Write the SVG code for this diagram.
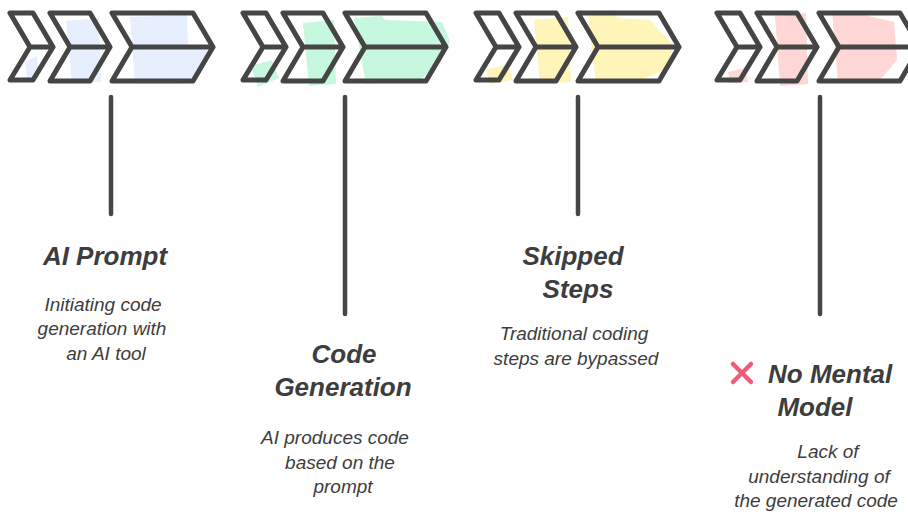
<svg xmlns="http://www.w3.org/2000/svg" width="908" height="515" viewBox="0 0 908 515">
  <style>
    .outline { fill: none; stroke: #454545; stroke-width: 5; stroke-linejoin: round; stroke-linecap: round; }
    .stem { stroke: #454545; stroke-width: 4.5; stroke-linecap: round; }
    .title { font-family: "Liberation Sans", Arial, sans-serif; font-weight: bold; font-style: italic; font-size: 26px; fill: #3d3d3d; text-anchor: middle; }
    .desc { font-family: "Liberation Sans", Arial, sans-serif; font-style: italic; font-size: 19px; fill: #3d3d3d; text-anchor: middle; }
    .blue { fill: #e7efff; }
    .green { fill: #c6f8df; }
    .yellow { fill: #fff5b9; }
    .pink { fill: #ffd7d7; }
    .cross { stroke: #f25a78; stroke-width: 4.5; stroke-linecap: round; }
  </style>
  <defs>
    <!-- three chevrons, each split into an upper and lower parallelogram -->
    <g id="chevrons" class="outline">
      <path d="M10,13 L33,13 L53,47 L30,47 Z M30,47 L53,47 L33,80 L10,80 Z"/>
      <path d="M50,13 L90,13 L110,47 L70,47 Z M70,47 L110,47 L90,81 L50,81 Z"/>
      <path d="M112,13 L193,13 L213,47 L132,47 Z M132,47 L213,47 L193,81 L112,81 Z"/>
    </g>
  </defs>
  <rect width="908" height="515" fill="#ffffff"/>

  <!-- vertical stems from each arrow group down to its label -->
  <g id="connectors">
    <line class="stem" x1="111" y1="97" x2="111" y2="214"/>
    <line class="stem" x1="345" y1="97" x2="345" y2="314"/>
    <line class="stem" x1="578" y1="97" x2="578" y2="214"/>
    <line class="stem" x1="820" y1="97" x2="820" y2="314"/>
  </g>

  <g id="ai-prompt">
    <g class="blue">
      <polygon points="25,62 37,56 39,78 27,79"/>
      <polygon points="66,21 99,18 101,82 72,83"/>
      <polygon points="130,17 187,15 188,48 207,50 203,70 182,84 135,84"/>
    </g>
    <use href="#chevrons"/>
    <text class="title" x="105" y="265">AI Prompt</text>
    <text class="desc" x="103" y="311">Initiating code</text>
    <text class="desc" x="102" y="335">generation with</text>
    <text class="desc" x="106" y="360">an AI tool</text>
  </g>

  <g id="code-generation">
    <g class="green">
      <polygon points="251,66 272,60 279,78 258,87"/>
      <polygon points="303,23 334,20 336,84 309,86"/>
      <polygon points="354,18 382,16 385,20 442,22 450,42 440,62 420,80 366,84"/>
    </g>
    <use href="#chevrons" x="233"/>
    <text class="title" x="344" y="363">Code</text>
    <text class="title" x="343" y="396">Generation</text>
    <text class="desc" x="335" y="444">AI produces code</text>
    <text class="desc" x="340" y="469">based on the</text>
    <text class="desc" x="343" y="493">prompt</text>
  </g>

  <g id="skipped-steps">
    <g class="yellow">
      <polygon points="486,70 508,64 513,80 490,84"/>
      <polygon points="534,20 568,17 571,82 540,84"/>
      <polygon points="588,16 614,10 617,18 650,20 674,46 665,70 640,80 596,82"/>
    </g>
    <use href="#chevrons" x="466"/>
    <text class="title" x="573" y="265">Skipped</text>
    <text class="title" x="578" y="298">Steps</text>
    <text class="desc" x="574" y="340">Traditional coding</text>
    <text class="desc" x="576" y="365">steps are bypassed</text>
  </g>

  <g id="no-mental-model">
    <g class="pink">
      <polygon points="728,72 745,68 748,82 730,83"/>
      <polygon points="775,16 806,13 808,84 780,86"/>
      <polygon points="832,12 860,14 894,22 897,60 880,80 838,82"/>
    </g>
    <use href="#chevrons" x="707"/>
    <!-- red cross mark before the title -->
    <line class="cross" x1="733" y1="364" x2="751" y2="382"/>
    <line class="cross" x1="751" y1="364" x2="733" y2="382"/>
    <text class="title" x="768" y="383" style="text-anchor:start">No Mental</text>
    <text class="title" x="815" y="416">Model</text>
    <text class="desc" x="828" y="458">Lack of</text>
    <text class="desc" x="819" y="483">understanding of</text>
    <text class="desc" x="816" y="507">the generated code</text>
  </g>
</svg>
